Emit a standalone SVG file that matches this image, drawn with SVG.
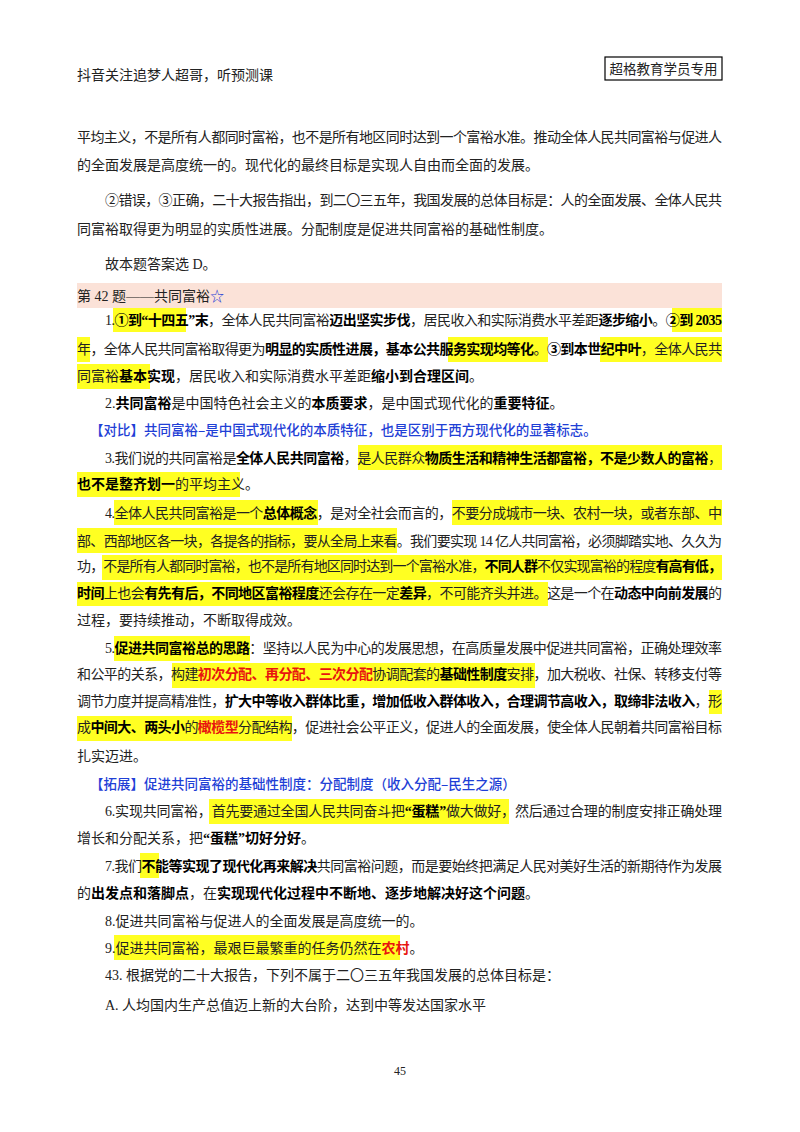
<svg xmlns="http://www.w3.org/2000/svg" width="800" height="1132" viewBox="0 0 800 1132">
<style>
text{font-family:"Liberation Serif","Noto Sans CJK SC",serif;font-size:14px;fill:#222}
.b{font-weight:bold;fill:#000}
.r{font-weight:bold;fill:#e8140f}
.bl{font-family:"Noto Sans CJK SC",sans-serif;fill:#1f3fd6;font-size:13.5px;font-weight:500}
.hl{fill:#ffff22}
</style>
<rect width="800" height="1132" fill="#fff"/>
<g id="header">
<text x="77" y="80">抖音关注追梦人超哥，听预测课</text>
<rect x="605" y="57" width="117" height="23" fill="none" stroke="#000" stroke-width="1.2"/>
<text x="663.5" y="74" text-anchor="middle" style="font-family:'Noto Sans CJK SC',sans-serif;font-size:13.5px">超格教育学员专用</text>
</g>
<g id="highlights">
<rect x="77" y="283" width="645" height="25" fill="#fbe2d8"/>
<rect class="hl" x="113" y="308" width="73" height="24"/>
<rect class="hl" x="672" y="308" width="50" height="24"/>
<rect class="hl" x="77" y="337" width="13" height="25"/>
<rect class="hl" x="448" y="337" width="100" height="25"/>
<rect class="hl" x="600" y="337" width="122" height="25"/>
<rect class="hl" x="77" y="364" width="73" height="25"/>
<rect class="hl" x="358" y="445" width="364" height="25"/>
<rect class="hl" x="77" y="472" width="163" height="25"/>
<rect class="hl" x="114" y="500" width="204" height="25"/>
<rect class="hl" x="452" y="500" width="270" height="25"/>
<rect class="hl" x="77" y="528" width="320" height="25"/>
<rect class="hl" x="102" y="555" width="620" height="25"/>
<rect class="hl" x="77" y="582" width="471" height="24"/>
<rect class="hl" x="114" y="636" width="136" height="25"/>
<rect class="hl" x="172" y="663" width="363" height="25"/>
<rect class="hl" x="709" y="690" width="13" height="24"/>
<rect class="hl" x="77" y="716" width="215" height="25"/>
<rect class="hl" x="209" y="799" width="300" height="25"/>
<rect class="hl" x="140" y="853" width="19" height="25"/>
<rect class="hl" x="114" y="935" width="286" height="25"/>
</g>
<g id="body">
<text x="77" y="142" textLength="645" lengthAdjust="spacing">平均主义，不是所有人都同时富裕，也不是所有地区同时达到一个富裕水准。推动全体人民共同富裕与促进人</text>
<text x="77" y="170">的全面发展是高度统一的。现代化的最终目标是实现人自由而全面的发展。</text>
<text x="105" y="205" textLength="617" lengthAdjust="spacing">②错误，③正确，二十大报告指出，到二〇三五年，我国发展的总体目标是：人的全面发展、全体人民共</text>
<text x="77" y="234">同富裕取得更为明显的实质性进展。分配制度是促进共同富裕的基础性制度。</text>
<text x="105" y="269">故本题答案选 D。</text>
<text x="77" y="301">第 42 题——共同富裕<tspan fill="#1f3fd6">☆</tspan></text>
<text x="105" y="325" textLength="617" lengthAdjust="spacing">1.<tspan class="b">①到“十四五”末</tspan>，全体人民共同富裕<tspan class="b">迈出坚实步伐</tspan>，居民收入和实际消费水平差距<tspan class="b">逐步缩小</tspan>。<tspan class="b">②到 2035</tspan></text>
<text x="77" y="354" textLength="645" lengthAdjust="spacing">年，全体人民共同富裕取得更为<tspan class="b">明显的实质性进展，基本公共服务实现均等化</tspan>。<tspan class="b">③到本世纪中叶</tspan>，全体人民共</text>
<text x="77" y="381">同富裕<tspan class="b">基本实现</tspan>，居民收入和实际消费水平差距<tspan class="b">缩小到合理区间</tspan>。</text>
<text x="105" y="408">2.<tspan class="b">共同富裕</tspan>是中国特色社会主义的<tspan class="b">本质要求</tspan>，是中国式现代化的<tspan class="b">重要特征</tspan>。</text>
<text class="bl" x="90" y="435">【对比】共同富裕–是中国式现代化的本质特征，也是区别于西方现代化的显著标志。</text>
<text x="105" y="463" textLength="617" lengthAdjust="spacing">3.我们说的共同富裕是<tspan class="b">全体人民共同富裕</tspan>，是人民群众<tspan class="b">物质生活和精神生活都富裕，不是少数人的富裕</tspan>，</text>
<text x="77" y="489"><tspan class="b">也不是整齐划一</tspan>的平均主义。</text>
<text x="105" y="518" textLength="617" lengthAdjust="spacing">4.全体人民共同富裕是一个<tspan class="b">总体概念</tspan>，是对全社会而言的，不要分成城市一块、农村一块，或者东部、中</text>
<text x="77" y="546" textLength="645" lengthAdjust="spacing">部、西部地区各一块，各提各的指标，要从全局上来看。我们要实现 14 亿人共同富裕，必须脚踏实地、久久为</text>
<text x="77" y="571" textLength="645" lengthAdjust="spacing">功，不是所有人都同时富裕，也不是所有地区同时达到一个富裕水准，<tspan class="b">不同人群</tspan>不仅实现富裕的程度<tspan class="b">有高有低，</tspan></text>
<text x="77" y="598" textLength="645" lengthAdjust="spacing"><tspan class="b">时间</tspan>上也会<tspan class="b">有先有后，不同地区富裕程度</tspan>还会存在一定<tspan class="b">差异</tspan>，不可能齐头并进。这是一个在<tspan class="b">动态中向前发展</tspan>的</text>
<text x="77" y="625">过程，要持续推动，不断取得成效。</text>
<text x="105" y="653" textLength="617" lengthAdjust="spacing">5.<tspan class="b">促进共同富裕总的思路</tspan>：坚持以人民为中心的发展思想，在高质量发展中促进共同富裕，正确处理效率</text>
<text x="77" y="679" textLength="645" lengthAdjust="spacing">和公平的关系，构建<tspan class="r">初次分配、再分配、三次分配</tspan>协调配套的<tspan class="b">基础性制度</tspan>安排，加大税收、社保、转移支付等</text>
<text x="77" y="706" textLength="645" lengthAdjust="spacing">调节力度并提高精准性，<tspan class="b">扩大中等收入群体比重，增加低收入群体收入，合理调节高收入，取缔非法收入</tspan>，形</text>
<text x="77" y="732" textLength="645" lengthAdjust="spacing">成<tspan class="b">中间大、两头小</tspan>的<tspan class="r">橄榄型</tspan>分配结构，促进社会公平正义，促进人的全面发展，使全体人民朝着共同富裕目标</text>
<text x="77" y="761">扎实迈进。</text>
<text class="bl" x="90" y="789">【拓展】促进共同富裕的基础性制度：分配制度（收入分配–民生之源）</text>
<text x="105" y="816" textLength="617" lengthAdjust="spacing">6.实现共同富裕，首先要通过全国人民共同奋斗把<tspan class="b">“蛋糕”</tspan>做大做好，然后通过合理的制度安排正确处理</text>
<text x="77" y="843">增长和分配关系，把<tspan class="b">“蛋糕”切好分好</tspan>。</text>
<text x="105" y="871" textLength="617" lengthAdjust="spacing">7.我们<tspan class="b">不能等实现了现代化再来解决</tspan>共同富裕问题，而是要始终把满足人民对美好生活的新期待作为发展</text>
<text x="77" y="898">的<tspan class="b">出发点和落脚点</tspan>，在<tspan class="b">实现现代化过程中不断地、逐步地解决好这个问题</tspan>。</text>
<text x="105" y="926">8.促进共同富裕与促进人的全面发展是高度统一的。</text>
<text x="105" y="953">9.促进共同富裕，最艰巨最繁重的任务仍然在<tspan class="r">农村</tspan>。</text>
<text x="105" y="980">43. 根据党的二十大报告，下列不属于二〇三五年我国发展的总体目标是：</text>
<text x="105" y="1010">A. 人均国内生产总值迈上新的大台阶，达到中等发达国家水平</text>
<text x="400" y="1075" text-anchor="middle" style="font-size:12px">45</text>
</g>
</svg>
